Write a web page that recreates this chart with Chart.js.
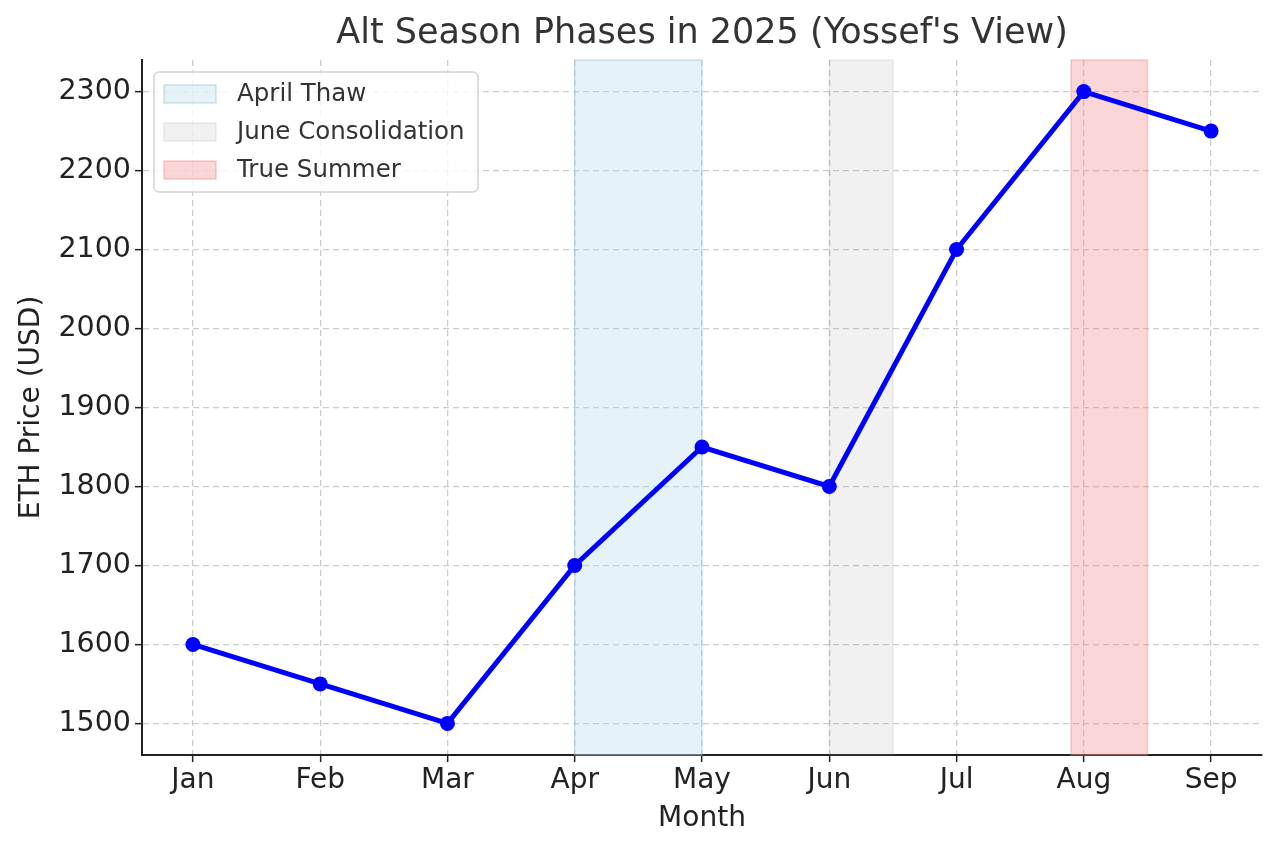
<!DOCTYPE html>
<html>

<head>
    <meta charset="utf-8" />
    <style>
        html, body { margin: 0; padding: 0; background: #ffffff; }
        #wrap { width: 1280px; height: 850px; }
    </style>
</head>

<body>
    <div id="wrap">
        <canvas id="chart" width="1280" height="850"></canvas>
    </div>

    <script src="https://cdn.jsdelivr.net/npm/chart.js"></script>
    <script type="text/javascript">

        // Datos
        const months = ['Jan', 'Feb', 'Mar', 'Apr', 'May', 'Jun', 'Jul', 'Aug', 'Sep'];
        const ethPrice = [1600, 1550, 1500, 1700, 1850, 1800, 2100, 2300, 2250];
        const yTicks = [1500, 1600, 1700, 1800, 1900, 2000, 2100, 2200, 2300];

        // Zonas sombreadas (en indices de mes)
        const phaseNames = ['April Thaw', 'June Consolidation', 'True Summer'];
        const phaseStart = [3, 5, 6.9];
        const phaseEnd = [4, 5.5, 7.5];
        const phaseFill = ['rgba(173,216,230,0.32)', 'rgba(128,128,128,0.11)', 'rgba(240,128,128,0.32)'];
        const phaseEdge = ['rgba(150,195,210,0.45)', 'rgba(128,128,128,0.14)', 'rgba(240,128,128,0.38)'];

        const font = "'DejaVu Sans', sans-serif";

        // Dibuja las franjas verticales usando las escalas
        const phasesPlugin = {
            id: 'phases',
            beforeDatasetsDraw(chart) {
                const ctx = chart.ctx;
                const x = chart.scales.x;
                const area = chart.chartArea;
                ctx.save();
                phaseStart.forEach((s, i) => {
                    const x0 = x.getPixelForValue(s);
                    const x1 = x.getPixelForValue(phaseEnd[i]);
                    ctx.fillStyle = phaseFill[i];
                    ctx.fillRect(x0, area.top, x1 - x0, area.bottom - area.top);
                    ctx.strokeStyle = phaseEdge[i];
                    ctx.lineWidth = 1.5;
                    ctx.strokeRect(x0, area.top, x1 - x0, area.bottom - area.top);
                });
                ctx.restore();
            }
        };

        // Leyenda dentro del area del grafico
        const legendPlugin = {
            id: 'boxLegend',
            afterDraw(chart) {
                const ctx = chart.ctx;
                const area = chart.chartArea;
                const bx = area.left + 12, by = area.top + 12, bw = 324, bh = 120;
                ctx.save();
                ctx.beginPath();
                ctx.roundRect(bx, by, bw, bh, 5);
                ctx.fillStyle = 'rgba(255,255,255,0.8)';
                ctx.fill();
                ctx.strokeStyle = '#d4d4d4';
                ctx.lineWidth = 1.5;
                ctx.stroke();
                ctx.font = '24.5px ' + font;
                ctx.textBaseline = 'middle';
                phaseNames.forEach((name, i) => {
                    const cy = by + 22 + i * 38;
                    ctx.fillStyle = phaseFill[i];
                    ctx.fillRect(bx + 10, cy - 9, 52, 18);
                    ctx.strokeStyle = phaseEdge[i];
                    ctx.lineWidth = 1.5;
                    ctx.strokeRect(bx + 10, cy - 9, 52, 18);
                    ctx.fillStyle = '#333333';
                    ctx.fillText(name, bx + 83, cy + 1);
                });
                ctx.restore();
            }
        };

        const ctx = document.getElementById('chart').getContext('2d');

        const myChart = new Chart(ctx, {
            type: 'line',
            data: {
                datasets: [{
                    label: 'ETH Price',
                    data: ethPrice.map((v, i) => ({ x: i, y: v })),
                    borderColor: '#0000ff',
                    backgroundColor: '#0000ff',
                    borderWidth: 5,
                    pointRadius: 7.5,
                    pointHoverRadius: 7.5,
                    pointBorderWidth: 0,
                    tension: 0
                }]
            },
            options: {
                responsive: false,
                animation: false,
                devicePixelRatio: 1,
                layout: { padding: { left: 15, right: 18, top: 0, bottom: 14 } },
                plugins: {
                    legend: { display: false },
                    tooltip: { enabled: false },
                    title: {
                        display: true,
                        fullSize: false,
                        text: "Alt Season Phases in 2025 (Yossef's View)",
                        color: '#333333',
                        font: { family: font, size: 35, weight: 'normal' },
                        padding: { top: 13, bottom: 5 }
                    }
                },
                scales: {
                    x: {
                        type: 'linear',
                        min: -0.4,
                        max: 8.4,
                        afterBuildTicks: axis => { axis.ticks = months.map((m, i) => ({ value: i })); },
                        afterFit: axis => { axis.height = 81; },
                        ticks: {
                            callback: v => months[v],
                            color: '#222222',
                            font: { family: font, size: 28 },
                            padding: 2,
                            maxRotation: 0,
                            autoSkip: false
                        },
                        grid: {
                            color: '#cccccc',
                            lineWidth: 1.3,
                            tickColor: '#222222',
                            tickLength: 7,
                            tickWidth: 1.5,
                            tickBorderDash: [],
                            drawTicks: true
                        },
                        border: { color: '#222222', width: 2, dash: [6, 4] },
                        title: {
                            display: true,
                            text: 'Month',
                            color: '#222222',
                            font: { family: font, size: 28 },
                            padding: { top: 0, bottom: 0 }
                        }
                    },
                    y: {
                        min: 1460,
                        max: 2340,
                        afterBuildTicks: axis => { axis.ticks = yTicks.map(v => ({ value: v })); },
                        afterFit: axis => { axis.width = 127; },
                        ticks: {
                            callback: v => String(v),
                            color: '#222222',
                            font: { family: font, size: 28.5 },
                            padding: 4
                        },
                        grid: {
                            color: '#cccccc',
                            lineWidth: 1.3,
                            tickColor: '#222222',
                            tickLength: 7,
                            tickWidth: 1.5,
                            tickBorderDash: [],
                            drawTicks: true
                        },
                        border: { color: '#222222', width: 2, dash: [6, 4] },
                        title: {
                            display: true,
                            text: 'ETH Price (USD)',
                            color: '#222222',
                            font: { family: font, size: 28 },
                            padding: { top: 0, bottom: 0 }
                        }
                    }
                }
            },
            plugins: [phasesPlugin, legendPlugin]
        });

    </script>

</body>

</html>
